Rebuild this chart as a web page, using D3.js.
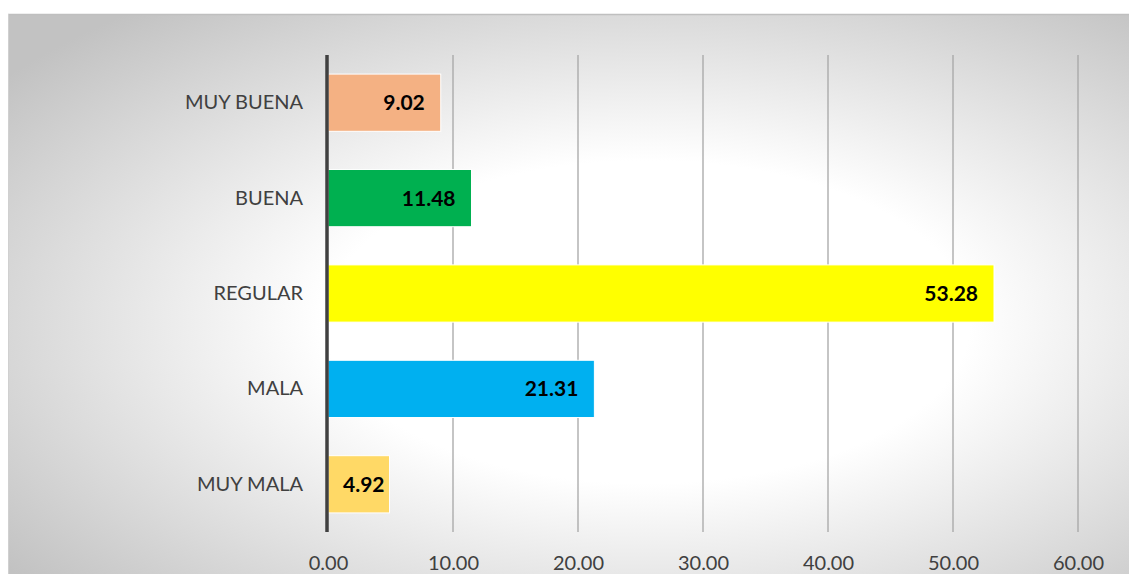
<!DOCTYPE html>
<html><head><meta charset="utf-8">
<script src="https://cdn.jsdelivr.net/npm/d3@7"></script>
<style>body{margin:0;background:#fff;}svg{display:block;font-family:Lato, "Open Sans", sans-serif;}</style>
</head><body>
<svg id="c" width="1129" height="574"></svg>
<script>
const categories = ["MUY BUENA","BUENA","REGULAR","MALA","MUY MALA"];
const values = [9.02, 11.48, 53.28, 21.31, 4.92];
const colors = ["#F4B183","#00B050","#FFFF00","#00B0F0","#FFD966"];
const tickValues = [0,10,20,30,40,50,60];

const svg = d3.select("#c");
const W = 1129, H = 574;
const defs = svg.append("defs");
const g = defs.append("radialGradient").attr("id","bg")
  .attr("cx",0.57).attr("cy",0.55).attr("r",0.72);
g.append("stop").attr("offset","0").attr("stop-color","#ffffff");
g.append("stop").attr("offset","0.4").attr("stop-color","#ffffff");
g.append("stop").attr("offset","1").attr("stop-color","#c2c2c2");
svg.append("rect").attr("x",8).attr("y",14).attr("width",W-8).attr("height",H-14).attr("fill","url(#bg)");
svg.append("line").attr("x1",8).attr("x2",W).attr("y1",14.5).attr("y2",14.5).attr("stroke","#bfbfbf").attr("stroke-width",1.5);
svg.append("line").attr("x1",8.5).attr("x2",8.5).attr("y1",14).attr("y2",H).attr("stroke","#d0d0d0");

const x = d3.scaleLinear().domain([0,60]).range([328,1078]);
const y = d3.scaleBand().domain(categories).range([55,532]).paddingInner(0.4).paddingOuter(0.2);

// gridlines
svg.append("g").selectAll("line").data(tickValues.slice(1)).join("line")
  .attr("x1",d=>x(d)).attr("x2",d=>x(d)).attr("y1",55).attr("y2",532)
  .attr("stroke","#a6a6a6").attr("stroke-width",1.3);

// bars
svg.append("g").selectAll("rect").data(values).join("rect")
  .attr("x",x(0)).attr("y",(d,i)=>y(categories[i]))
  .attr("width",d=>x(d)-x(0)).attr("height",y.bandwidth())
  .attr("fill",(d,i)=>colors[i]).attr("stroke","#ffffff").attr("stroke-width",1);

// value labels
const vl = svg.append("g").selectAll("text").data(values).join("text")
  .attr("y",(d,i)=>y(categories[i])+y.bandwidth()/2)
  .attr("dy","0.36em").attr("text-anchor","end")
  .attr("font-size",21).attr("font-weight","bold").attr("fill","#000")
  .text(d=>d.toFixed(2));
vl.attr("x",function(d){const w=this.getComputedTextLength();return Math.max(x(d)-16, Math.min(x(d)-3, x(0)+15+w));});

// y axis
const ya = svg.append("g").attr("transform",`translate(${x(0)-1},0)`).call(d3.axisLeft(y).tickSize(0).tickPadding(24));
ya.select(".domain").attr("stroke","#404040").attr("stroke-width",3.5).attr("d","M0,55V532");
ya.selectAll("text").attr("font-size",20).attr("fill","#404040").attr("font-family","Lato, 'Open Sans', sans-serif");

// x axis
const xa = svg.append("g").attr("transform","translate(0,532)").call(d3.axisBottom(x).tickValues(tickValues).tickSize(0).tickPadding(24).tickFormat(d3.format(".2f")));
xa.select(".domain").remove();
xa.selectAll("text").attr("font-size",20).attr("fill","#404040").attr("font-family","Lato, 'Open Sans', sans-serif");
</script>
</body></html>
